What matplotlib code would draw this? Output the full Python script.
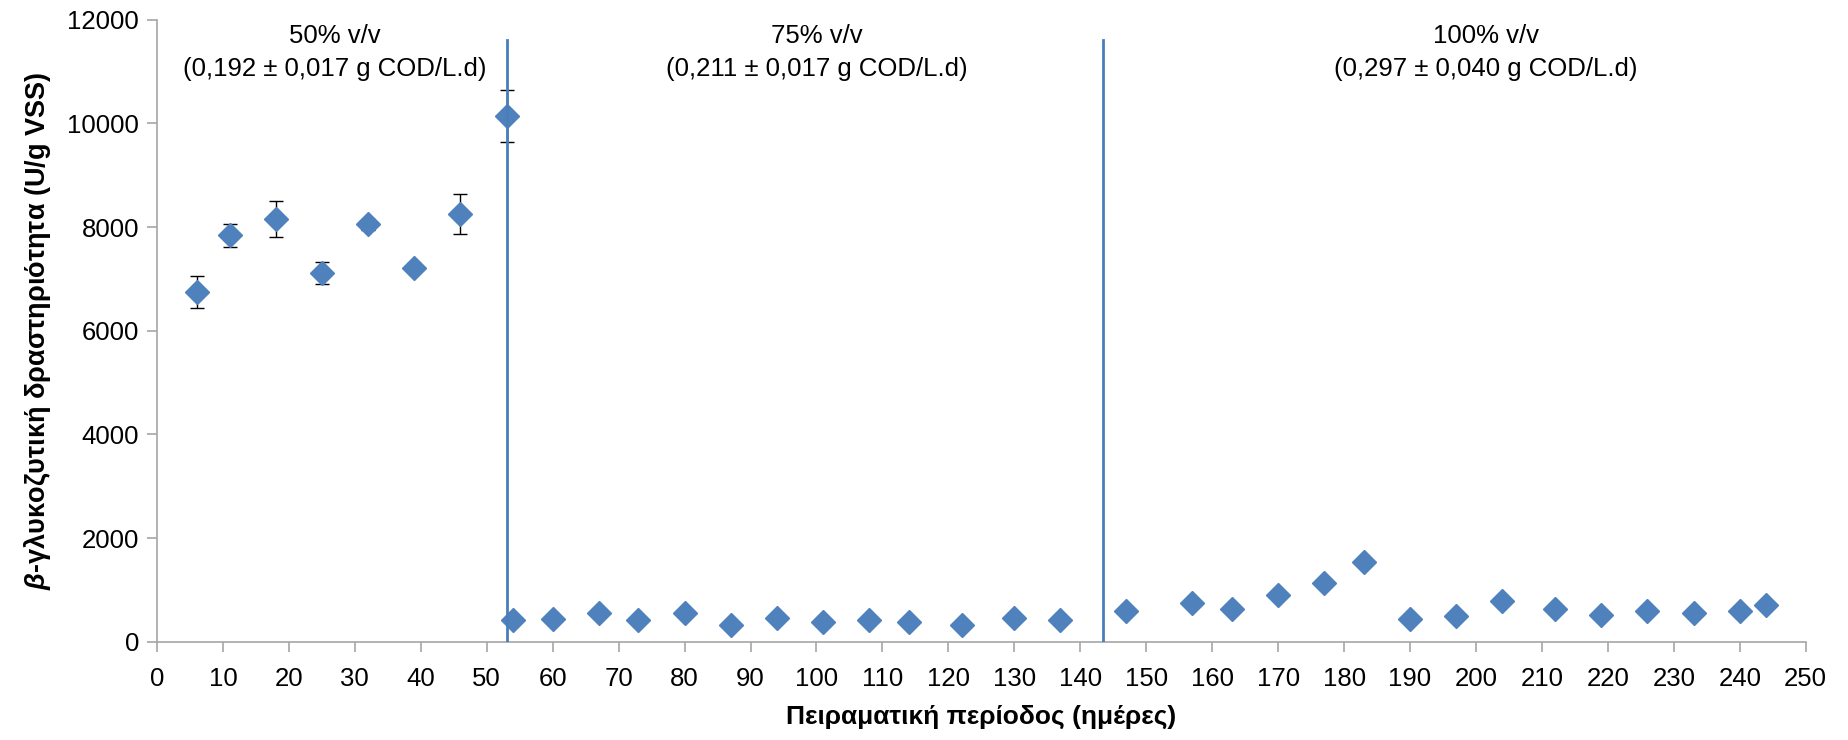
import matplotlib.pyplot as plt
import numpy as np

plt.rcParams['font.family'] = ['Liberation Sans', 'DejaVu Sans']
plt.rcParams['mathtext.fontset'] = 'custom'
plt.rcParams['mathtext.it'] = 'Liberation Sans:italic:bold'
plt.rcParams['mathtext.rm'] = 'Liberation Sans:bold'

# ημέρες και δραστηριότητα (U/g VSS)
days = [6, 11, 18, 25, 32, 39, 46, 53,
        54, 60, 67, 73, 80, 87, 94, 101, 108, 114, 122, 130, 137,
        147, 157, 163, 170, 177, 183, 190, 197, 204, 212, 219, 226, 233, 240, 244]
activity = [6746, 7840, 8148, 7119, 8051, 7216, 8251, 10141,
            418, 437, 553, 411, 559, 321, 463, 386, 424, 386, 321, 463, 411,
            585, 746, 630, 894, 1132, 1530, 437, 489, 778, 630, 514, 598, 559, 598, 707]
errors = [300, 220, 350, 210, 110, 90, 390, 510,
          60, 60, 60, 60, 60, 60, 60, 60, 60, 60, 60, 60, 60,
          60, 60, 60, 60, 60, 60, 60, 60, 60, 60, 60, 60, 60, 60, 60]

phase_lines = [53, 143.4]
phase_labels = ['50% v/v\n(0,192 ± 0,017 g COD/L.d)',
                '75% v/v\n(0,211 ± 0,017 g COD/L.d)',
                '100% v/v\n(0,297 ± 0,040 g COD/L.d)']
label_x = [27, 100, 201.5]

blue = '#4F81BD'
grey = '#A6A6A6'

fig = plt.figure(figsize=(18.49, 7.40), dpi=100)
ax = fig.add_axes([0.0849, 0.1327, 0.9919 - 0.0849 - 0.0153, 0.9735 - 0.1327])

ax.errorbar(days, activity, yerr=errors, fmt='D', color=blue, ms=12.5,
            mec=blue, ecolor='black', elinewidth=1, capsize=5, capthick=1,
            zorder=3)

for xl in phase_lines:
    ax.plot([xl, xl], [0, 11600], color='#4A7EBB', lw=2, zorder=4)

for xt, txt in zip(label_x, phase_labels):
    ax.text(xt, 11920, txt, ha='center', va='top', fontsize=18.5,
            linespacing=1.5)

ax.set_xlim(0, 250)
ax.set_ylim(0, 12000)
ax.set_xticks(np.arange(0, 251, 10))
ax.set_yticks(np.arange(0, 12001, 2000))

for s in ['top', 'right']:
    ax.spines[s].set_visible(False)
for s in ['left', 'bottom']:
    ax.spines[s].set_color(grey)
    ax.spines[s].set_linewidth(1.2)
ax.tick_params(axis='both', colors=grey, labelcolor='black', labelsize=18.5,
               length=7, width=1.2, direction='out')
ax.tick_params(axis='x', pad=11)
ax.tick_params(axis='y', pad=6)

ax.set_xlabel('Πειραματική περίοδος (ημέρες)', fontsize=19, fontweight='bold',
              labelpad=10)
ax.set_ylabel(r'$\it{\beta}$-γλυκοζυτική δραστηριότητα (U/g VSS)', fontsize=19.5,
              fontweight='bold', labelpad=10)

fig.savefig('out.png', dpi=100)
